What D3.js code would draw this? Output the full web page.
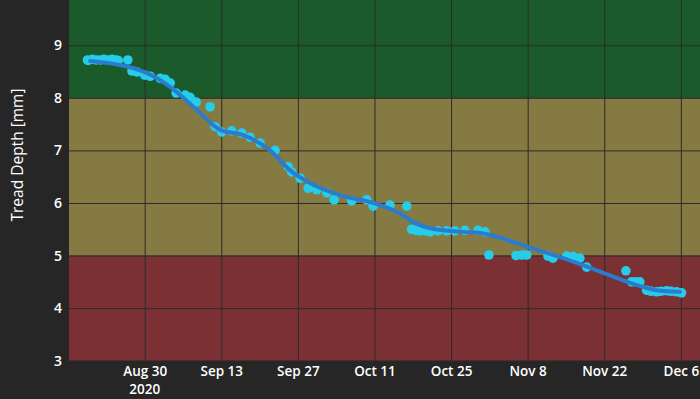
<!DOCTYPE html>
<html>
<head>
<meta charset="utf-8">
<title>Tread Depth</title>
<style>
  body { margin: 0; background: #262626; }
  svg { display: block; }
  .tick text, .yearlabel { fill: #fff; font-family: "Open Sans", sans-serif; font-size: 14px; font-weight: 600; }
  .xaxis .tick text, .yearlabel { font-size: 13.5px; }
  .grid line { stroke: #2b2b2b; stroke-width: 1px; }
</style>
</head>
<body>
<svg id="chart" width="700" height="399"></svg>
<script src="https://cdn.jsdelivr.net/npm/d3@7"></script>
<script>
// scatter measurements: date/time and tread depth (mm)
var pointDates = [
  "2020-08-19 13", "2020-08-19 16", "2020-08-20 10", "2020-08-21 03", "2020-08-21 21", "2020-08-22 14",
  "2020-08-23 08", "2020-08-24 01", "2020-08-24 19", "2020-08-25 04", "2020-08-26 22",
  "2020-08-27 16", "2020-08-28 14", "2020-08-30 00", "2020-08-31 00", "2020-09-01 20", "2020-09-02 18",
  "2020-09-03 16", "2020-09-04 18", "2020-09-06 10", "2020-09-07 07", "2020-09-08 10", "2020-09-10 23",
  "2020-09-11 21", "2020-09-13 02", "2020-09-14 22", "2020-09-16 18", "2020-09-18 06", "2020-09-20 02",
  "2020-09-22 20", "2020-09-25 05", "2020-09-25 21", "2020-09-27 10", "2020-09-28 21", "2020-09-30 11",
  "2020-10-02 07", "2020-10-03 15", "2020-10-06 20", "2020-10-09 14", "2020-10-10 18", "2020-10-13 20",
  "2020-10-16 22", "2020-10-17 19", "2020-10-18 14", "2020-10-19 08", "2020-10-20 06", "2020-10-21 04",
  "2020-10-22 15", "2020-10-24 05", "2020-10-25 17", "2020-10-27 13", "2020-10-29 22", "2020-10-31 05",
  "2020-10-31 22", "2020-11-05 21", "2020-11-06 22", "2020-11-07 20", "2020-11-11 17", "2020-11-12 15",
  "2020-11-15 03", "2020-11-16 07", "2020-11-17 13", "2020-11-18 19", "2020-11-25 23", "2020-11-27 00",
  "2020-11-27 19", "2020-11-28 12", "2020-11-29 18", "2020-11-30 13", "2020-12-01 14", "2020-12-02 09",
  "2020-12-03 10", "2020-12-04 04", "2020-12-05 05", "2020-12-06 03"
];
var pointDepths = [
  8.72, 8.71, 8.73, 8.72, 8.72, 8.73,
  8.72, 8.73, 8.72, 8.71, 8.72,
  8.51, 8.49, 8.43, 8.41, 8.37, 8.35,
  8.28, 8.09, 8.05, 8.01, 7.92, 7.83,
  7.45, 7.35, 7.37, 7.33, 7.25, 7.14,
  7.00, 6.69, 6.59, 6.47, 6.28, 6.25,
  6.19, 6.06, 6.04, 6.06, 5.94, 5.96,
  5.94, 5.50, 5.48, 5.47, 5.47, 5.45,
  5.47, 5.47, 5.47, 5.48, 5.48, 5.45,
  5.01, 5.00, 5.01, 5.01, 4.99, 4.95,
  4.99, 4.98, 4.95, 4.78, 4.71, 4.50,
  4.50, 4.50, 4.34, 4.32, 4.31, 4.32,
  4.33, 4.32, 4.31, 4.29
];

// smoothed trend line
var trendDates = [
  "2020-08-20 01", "2020-08-30 00", "2020-09-03 16", "2020-09-08 13", "2020-09-12 19", "2020-09-17 00",
  "2020-09-21 22", "2020-09-25 14", "2020-09-29 05", "2020-10-04 17", "2020-10-10 18", "2020-10-15 16",
  "2020-10-18 01", "2020-10-21 04", "2020-10-27 04", "2020-10-30 07", "2020-11-07 21", "2020-11-14 11",
  "2020-11-20 15", "2020-11-26 17", "2020-12-01 14", "2020-12-05 20"
];
var trendDepths = [
  8.70, 8.49, 8.21, 7.77, 7.39, 7.29,
  7.00, 6.62, 6.38, 6.15, 6.00, 5.80,
  5.64, 5.52, 5.45, 5.43, 5.17, 4.95,
  4.72, 4.48, 4.34, 4.31
];

// colored zones
var zoneLows = [3, 5, 8];
var zoneHighs = [5, 8, 9.86];
var zoneColors = ["#7b3034", "#857a41", "#1b5b2b"];

var xTicks = ["2020-08-30", "2020-09-13", "2020-09-27", "2020-10-11", "2020-10-25", "2020-11-08", "2020-11-22", "2020-12-06"];
var yTicks = [3, 4, 5, 6, 7, 8, 9];

var parseT = d3.timeParse("%Y-%m-%d %H");
var parseD = d3.timeParse("%Y-%m-%d");

var svg = d3.select("#chart");
var mLeft = 69, mRight = 700, mTop = 0, mBottom = 360.7;

var x = d3.scaleTime()
    .domain([parseT("2020-08-16 04"), parseT("2020-12-09 12")])
    .range([mLeft, mRight]);
var y = d3.scaleLinear()
    .domain([3, 9.86])
    .range([mBottom, mTop]);

// zones
svg.selectAll("rect.zone")
    .data(zoneLows)
    .enter()
    .append("rect")
    .attr("class", "zone")
    .attr("x", mLeft)
    .attr("width", mRight - mLeft)
    .attr("y", function(d, i) { return y(zoneHighs[i]); })
    .attr("height", function(d, i) { return y(d) - y(zoneHighs[i]); })
    .attr("fill", function(d, i) { return zoneColors[i]; });

// grid
svg.append("g")
    .attr("class", "grid")
    .attr("transform", "translate(0," + mBottom + ")")
    .call(d3.axisBottom(x).tickValues(xTicks.map(parseD)).tickSize(-(mBottom - mTop)).tickFormat(""))
    .call(function(g) { g.select(".domain").remove(); });
svg.append("g")
    .attr("class", "grid")
    .attr("transform", "translate(" + mLeft + ",0)")
    .call(d3.axisLeft(y).tickValues(yTicks).tickSize(-(mRight - mLeft)).tickFormat(""))
    .call(function(g) { g.select(".domain").remove(); });

// axes labels
var fmt = d3.timeFormat("%b %-d");
var xAxis = svg.append("g")
    .attr("class", "xaxis")
    .attr("transform", "translate(0," + mBottom + ")")
    .call(d3.axisBottom(x).tickValues(xTicks.map(parseD)).tickSize(0).tickPadding(6).tickFormat(fmt));
xAxis.select(".domain").remove();

// year under first tick
svg.append("text")
    .attr("class", "yearlabel")
    .attr("x", x(parseD(xTicks[0])))
    .attr("y", mBottom + 33.5)
    .attr("text-anchor", "middle")
    .text("2020");

var yAxis = svg.append("g")
    .attr("transform", "translate(" + mLeft + ",0)")
    .call(d3.axisLeft(y).tickValues(yTicks).tickSize(0).tickPadding(7).tickFormat(d3.format("d")));
yAxis.select(".domain").remove();

svg.append("text")
    .attr("transform", "translate(23,155) rotate(-90)")
    .attr("text-anchor", "middle")
    .attr("fill", "#fff")
    .attr("font-family", "Open Sans, sans-serif")
    .attr("font-size", "15.5px")
    .text("Tread Depth [mm]");

// points
svg.append("g")
    .selectAll("circle")
    .data(pointDates)
    .enter()
    .append("circle")
    .attr("cx", function(d) { return x(parseT(d)); })
    .attr("cy", function(d, i) { return y(pointDepths[i]); })
    .attr("r", 4.8)
    .attr("fill", "#25cdeb");

// trend line
var line = d3.line()
    .x(function(d) { return x(parseT(d)); })
    .y(function(d, i) { return y(trendDepths[i]); })
    .curve(d3.curveMonotoneX);

svg.append("path")
    .datum(trendDates)
    .attr("d", line)
    .attr("fill", "none")
    .attr("stroke", "#2a7ccf")
    .attr("stroke-width", 4)
    .attr("stroke-linecap", "round");
</script>
</body>
</html>
